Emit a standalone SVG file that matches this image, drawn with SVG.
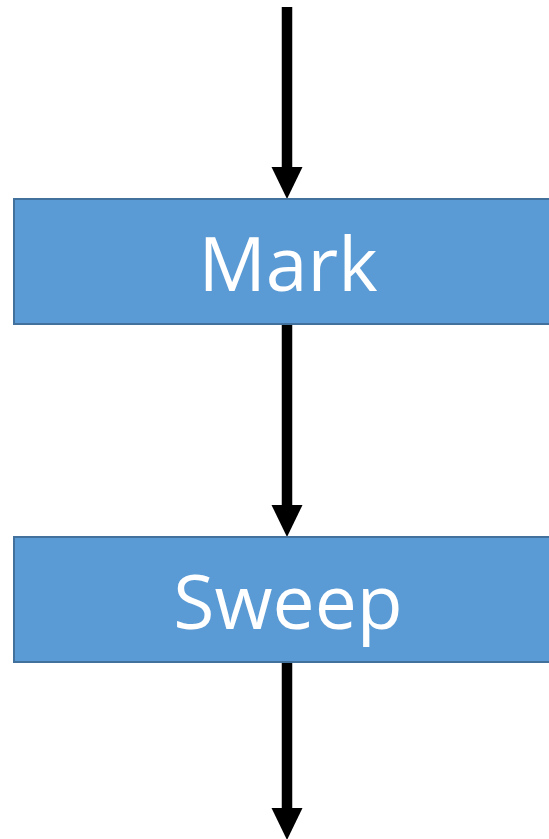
<svg xmlns="http://www.w3.org/2000/svg" width="549" height="839" viewBox="0 0 549 839">
  <style>
    .box { fill: #5B9BD5; stroke: #41719C; stroke-width: 2; }
    .label { font-family: "Open Sans", "Noto Sans", sans-serif; font-size: 75px; fill: #FFFFFF; text-anchor: middle; }
    .flow { stroke: #000000; stroke-width: 10.5; fill: none; }
    .head { fill: #000000; }
  </style>
  <rect width="549" height="839" fill="#FFFFFF"/>
  <g id="connectors">
    <line class="flow" x1="287" y1="7" x2="287" y2="170"/>
    <polygon class="head" points="271.5,167 302.5,167 287,199"/>
    <line class="flow" x1="287" y1="324" x2="287" y2="508"/>
    <polygon class="head" points="271.5,505 302.5,505 287,537"/>
    <line class="flow" x1="287" y1="662" x2="287" y2="811"/>
    <polygon class="head" points="271.5,808 302.5,808 287,840"/>
  </g>
  <g id="mark">
    <rect class="box" x="14" y="199" width="560" height="125"/>
    <text class="label" x="288" y="291">Mark</text>
  </g>
  <g id="sweep">
    <rect class="box" x="14" y="537" width="560" height="125"/>
    <text class="label" x="288" y="629">Sweep</text>
  </g>
</svg>
